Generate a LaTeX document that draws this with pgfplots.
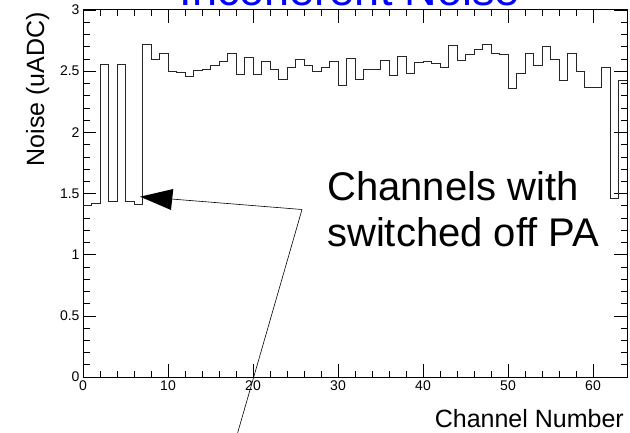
\documentclass[border=0pt]{standalone}
\usepackage{pgfplots}
\pgfplotsset{compat=1.18}
\usepackage{fontspec}
\setmainfont{Liberation Sans}
\begin{document}
\begin{tikzpicture}[x=1bp,y=1bp]
\path[use as bounding box] (0,0) rectangle (630,432);
\begin{axis}[
  at={(83bp,55bp)}, anchor=south west,
  width=544bp, height=367bp, scale only axis,
  xmin=0, xmax=64, ymin=0, ymax=3,
  xtick={0,10,20,30,40,50,60},
  ytick={0,0.5,1,1.5,2,2.5,3},
  minor x tick num=4, minor y tick num=4,
  major tick length=13bp, minor tick length=6.5bp,
  tick style={black, line width=0.6pt},
  axis line style={line width=1bp},
  ticklabel style={font=\fontsize{14bp}{16bp}\selectfont},
  /pgf/number format/assume math mode=true,
]
\addplot[const plot, black!85, line width=1bp] table {
x y
0 1.406
1 1.420
2 2.551
3 1.433
4 2.551
5 1.433
6 1.414
7 2.717
8 2.592
9 2.647
10 2.497
11 2.489
12 2.453
13 2.505
14 2.516
15 2.543
16 2.578
17 2.641
18 2.475
19 2.614
20 2.475
21 2.578
22 2.516
23 2.428
24 2.532
25 2.597
26 2.543
27 2.494
28 2.532
29 2.578
30 2.379
31 2.606
32 2.428
33 2.510
34 2.513
35 2.586
36 2.461
37 2.619
38 2.483
39 2.573
40 2.578
41 2.562
42 2.529
43 2.709
44 2.584
45 2.633
46 2.674
47 2.715
48 2.641
49 2.633
50 2.360
51 2.483
52 2.641
53 2.543
54 2.701
55 2.592
56 2.420
57 2.641
58 2.497
59 2.369
60 2.369
61 2.529
62 1.461
63 2.420
64 2.420
};
\end{axis}
% axis titles and chart title
\node[anchor=base east, inner sep=0pt, font=\fontsize{25bp}{28bp}\selectfont] at (624,5) {Channel Number};
\node[rotate=90, anchor=base east, inner sep=0pt, font=\fontsize{25bp}{28bp}\selectfont] at (44,420) {Noise (uADC)};
\node[anchor=base, inner sep=0pt, text=blue, font=\fontsize{45bp}{50bp}\selectfont] at (350,426) {Incoherent Noise};
% annotation
\node[anchor=base west, inner sep=0pt, font=\fontsize{40bp}{46bp}\selectfont] at (327,232) {Channels with};
\node[anchor=base west, inner sep=0pt, font=\fontsize{40bp}{46bp}\selectfont] at (327,186) {switched off PA};
\draw[line width=0.6bp] (302,222.5) -- (165,233.5);
\fill (140,235.3) -- (173.3,243) -- (171,222) -- cycle;
\draw[line width=0.6bp] (302,222.5) -- (235,-10);
\end{tikzpicture}
\end{document}
